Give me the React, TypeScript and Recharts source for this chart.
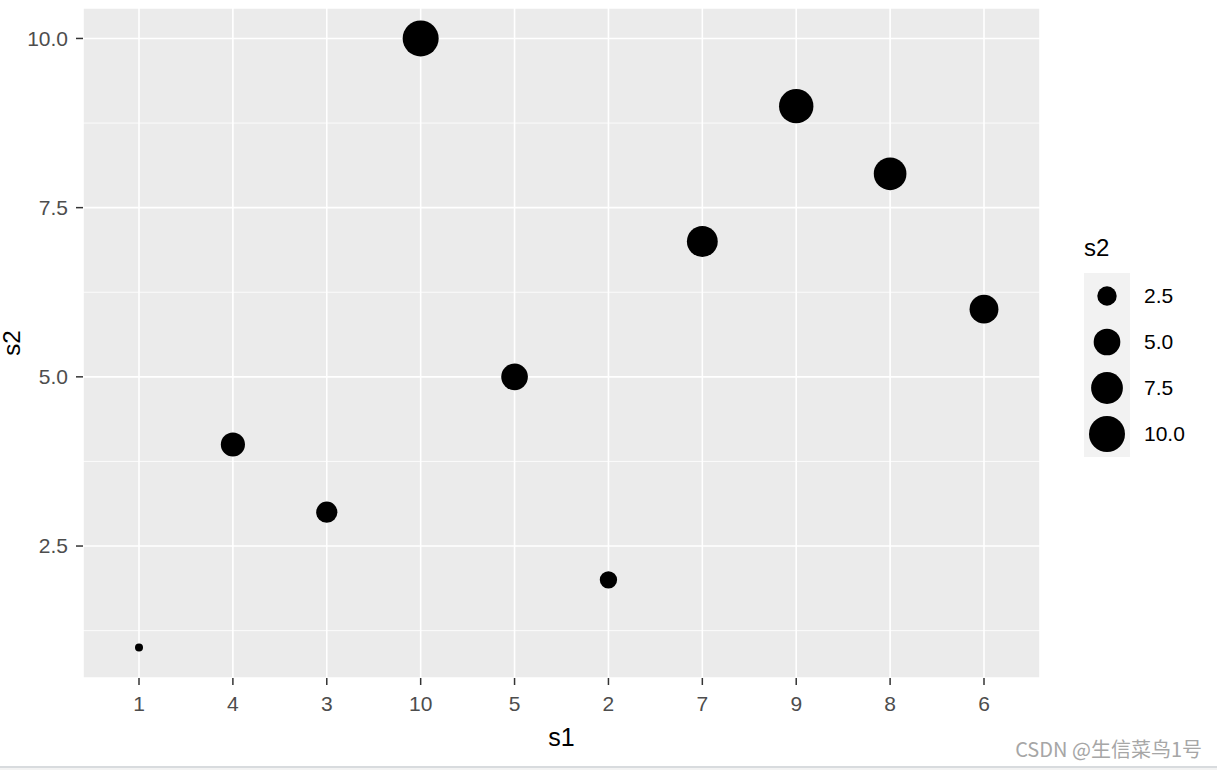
import React from 'react';
import { ScatterChart, Scatter, XAxis, YAxis, CartesianGrid, ReferenceLine } from 'recharts';

// s1 is a factor, shown in this level order
const s1Levels = ['1', '4', '3', '10', '5', '2', '7', '9', '8', '6'];
const s2Values = [1, 4, 3, 10, 5, 2, 7, 9, 8, 6];
const yTicks = [2.5, 5, 7.5, 10];
const yMinorTicks = [1.25, 3.75, 6.25, 8.75];
const yDomain = [0.55, 10.45];
const sizeBreaks = [2.5, 5, 7.5, 10];
const sizeLimits = [1, 10];

const data = s1Levels.map((s1, i) => ({ s1, s2: s2Values[i] }));

const FONT = '"Liberation Sans", Arial, sans-serif';

// ggplot-like area scale: diameter grows with sqrt of the rescaled value
const diameter = (v: number) => {
    const t = (v - sizeLimits[0]) / (sizeLimits[1] - sizeLimits[0]);
    return 8 + 28 * Math.sqrt(Math.max(0, t));
};

const Dot = (props: any) => {
    const { cx, cy, payload } = props;
    if (cx == null || cy == null) return null;
    return <circle cx={cx} cy={cy} r={diameter(payload.s2) / 2} fill="#000000" />;
};

const SizeLegend = () => {
    const left = 1084;
    const top = 273;
    const key = 46;
    return (
        <g>
            <text x={left} y={256} fontSize={24} fontFamily={FONT} fill="#000">s2</text>
            <rect x={left} y={top} width={key} height={key * sizeBreaks.length} fill="#f2f2f2" />
            {sizeBreaks.map((b, i) => {
                const cy = top + key / 2 + key * i;
                return (
                    <g key={b}>
                        <circle cx={left + key / 2} cy={cy} r={diameter(b) / 2} fill="#000" />
                        <text x={left + 60} y={cy} dy="0.355em" fontSize={21} fontFamily={FONT} fill="#000">
                            {b.toFixed(1)}
                        </text>
                    </g>
                );
            })}
        </g>
    );
};

const App: React.FC = () => {
    return (
        <div style={{ position: 'absolute', left: 0, top: 0, width: 1217, height: 770, background: '#fff' }}>
            <ScatterChart width={1217} height={770} margin={{ top: 8, right: 177, bottom: 0, left: 0 }}>
                <CartesianGrid fill="#ebebeb" stroke="#ffffff" strokeWidth={1.6} />
                {yMinorTicks.map(v => (
                    <ReferenceLine key={v} y={v} stroke="#ffffff" strokeWidth={0.8} />
                ))}
                <XAxis
                    dataKey="s1"
                    type="category"
                    scale="point"
                    allowDuplicatedCategory={false}
                    padding={{ left: 56, right: 56 }}
                    height={92}
                    axisLine={false}
                    tickLine={{ stroke: '#333333', strokeWidth: 1.5 }}
                    tickSize={7}
                    tickMargin={11}
                    tick={{ fill: '#4d4d4d', fontSize: 21, fontFamily: FONT }}
                    label={({ viewBox }: any) => (
                        <text
                            x={viewBox.x + viewBox.width / 2}
                            y={viewBox.y + 68}
                            textAnchor="middle"
                            fontSize={25}
                            fontFamily={FONT}
                            fill="#000"
                        >
                            s1
                        </text>
                    )}
                />
                <YAxis
                    dataKey="s2"
                    type="number"
                    domain={yDomain}
                    ticks={yTicks}
                    allowDataOverflow
                    width={83}
                    axisLine={false}
                    tickLine={{ stroke: '#333333', strokeWidth: 1.5 }}
                    tickSize={7}
                    tickMargin={8}
                    tickFormatter={(v: number) => v.toFixed(1)}
                    tick={{ fill: '#4d4d4d', fontSize: 21, fontFamily: FONT }}
                    label={({ viewBox }: any) => (
                        <text
                            transform={`translate(20, ${viewBox.y + viewBox.height / 2}) rotate(-90)`}
                            textAnchor="middle"
                            fontSize={24}
                            fontFamily={FONT}
                            fill="#000"
                        >
                            s2
                        </text>
                    )}
                />
                <Scatter data={data} dataKey="s2" shape={<Dot />} isAnimationActive={false} />
                <SizeLegend />
                <text x={1202} y={757} textAnchor="end" fontSize={20} fontFamily='"Noto Sans CJK SC", sans-serif' fill="#a6a6a6">
                    CSDN @生信菜鸟1号
                </text>
                <rect x={0} y={766} width={1217} height={2} fill="#d8dbde" />
                <rect x={0} y={768} width={1217} height={2} fill="#f3f3f3" />
            </ScatterChart>
        </div>
    );
};

export default App;
